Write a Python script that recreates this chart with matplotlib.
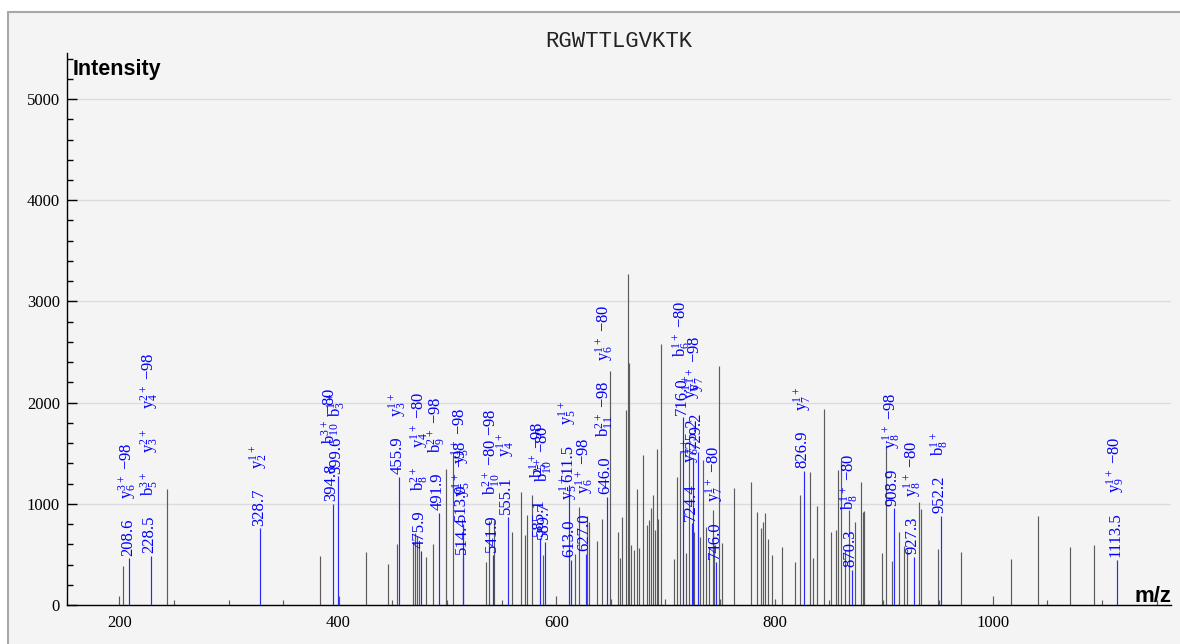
import matplotlib
matplotlib.use('Agg')
import matplotlib.pyplot as plt
from matplotlib.patches import Rectangle
from matplotlib.ticker import MultipleLocator

# ---------------- data ----------------
title = "RGWTTLGVKTK"

gray_mz = [199.4, 202.4, 243.0, 249.8, 300.0, 349.0, 383.2, 400.5, 425.4, 445.3,
           449.5, 453.5, 468.1, 470.0, 471.8, 473.6, 480.3, 486.4, 498.4, 499.8,
           505.4, 535.3, 537.7, 543.0, 549.7, 559.4, 567.4, 570.7, 572.6, 577.7,
           587.5, 599.3, 616.9, 620.9, 627.6, 629.7, 636.8, 642.0, 648.5, 649.5,
           656.6, 658.4, 660.0, 663.8, 665.4, 666.6, 668.5, 671.2, 673.9, 675.5,
           679.5, 683.2, 685.0, 686.2, 688.6, 690.4, 691.7, 693.2, 695.4, 699.6,
           707.8, 710.6, 713.0, 718.5, 721.0, 725.9, 731.4, 733.8, 736.9, 739.9,
           743.0, 744.5, 748.5, 749.5, 751.8, 762.8, 777.8, 783.9, 787.5, 789.1,
           790.6, 793.9, 797.6, 799.7, 806.8, 818.7, 822.7, 831.9, 835.2, 838.8,
           845.0, 849.9, 851.1, 856.0, 857.8, 860.8, 863.9, 868.2, 873.1, 878.9,
           881.0, 881.9, 897.8, 899.3, 901.8, 907.0, 914.0, 918.3, 920.8, 932.3,
           933.5, 949.4, 950.0, 970.2, 999.5, 1016.3, 1041.1, 1049.6, 1070.1, 1092.1,
           1100.0, 1149.8]
gray_int = [90, 385, 1146, 50, 50, 50, 484, 90, 524, 405,
            50, 600, 626, 711, 680, 612, 477, 600, 1341, 50,
            1472, 422, 830, 840, 50, 718, 1120, 690, 889, 1087,
            494, 90, 500, 972, 880, 825, 635, 847, 2315, 60,
            725, 462, 873, 1927, 3271, 2388, 593, 543, 1143, 560,
            1482, 790, 840, 955, 1087, 741, 1538, 847, 2579, 60,
            451, 1268, 1515, 513, 1499, 725, 675, 1433, 774, 576,
            939, 593, 2362, 60, 610, 1153, 1218, 922, 757, 823,
            906, 649, 494, 60, 570, 428, 1087, 1318, 465, 975,
            1934, 45, 725, 745, 1334, 1426, 540, 940, 823, 1218,
            922, 930, 510, 49, 1558, 438, 718, 583, 550, 1021,
            945, 553, 49, 524, 89, 451, 879, 49, 576, 593,
            49, 49]

ann_mz = [208.6, 228.5, 328.7, 394.8, 399.6, 455.9, 475.9, 491.9, 513.9, 514.4,
          541.9, 555.1, 585.1, 589.7, 611.5, 613.0, 627.0, 646.0, 716.0, 724.4,
          725.2, 729.2, 746.0, 826.9, 870.3, 908.9, 927.3, 952.2, 1113.5]
ann_int = [461, 484, 758, 998, 1270, 1268, 534, 912, 800, 477,
           494, 873, 659, 626, 1190, 445, 505, 1070, 1855, 807,
           1450, 1515, 428, 1327, 346, 955, 477, 879, 445]
ann_ions = [
    [r"$y_6^{3+}$ −98"],
    [r"$b_5^{3+}$", r"$y_3^{2+}$", r"$y_4^{2+}$ −98"],
    [r"$y_2^{1+}$"],
    [r"$b_{10}^{3+}$ −80"],
    [r"$b_3^{1+}$"],
    [r"$y_3^{1+}$"],
    [r"$b_8^{2+}$", r"$y_4^{1+}$ −80"],
    [r"$b_9^{2+}$ −98"],
    [r"$y_5^{1+}$ −98"],
    [r"$y_5^{1+}$ −98"],
    [r"$b_{10}^{2+}$ −80 −98"],
    [r"$y_4^{1+}$"],
    [r"$b_5^{1+}$ −98"],
    [r"$b_{10}^{2+}$ −80"],
    [r"$y_5^{1+}$"],
    [r"$y_5^{1+}$"],
    [r"$y_6^{1+}$ −98"],
    [r"$b_{11}^{2+}$ −98", r"$y_6^{1+}$ −80"],
    [r"$b_6^{1+}$ −80"],
    [r"$y_6^{1+}$"],
    [r"$y_6^{1+}$"],
    [r"$y_7^{1+}$ −98"],
    [r"$y_7^{1+}$ −80"],
    [r"$y_7^{1+}$"],
    [r"$b_8^{1+}$ −80"],
    [r"$y_8^{1+}$ −98"],
    [r"$y_8^{1+}$ −80"],
    [r"$b_8^{1+}$"],
    [r"$y_9^{1+}$ −80"],
]

x_ticks = [200, 400, 600, 800, 1000]
y_ticks = [0, 1000, 2000, 3000, 4000, 5000]

# ---------------- style ----------------
plt.rcParams['mathtext.fontset'] = 'custom'
plt.rcParams['mathtext.rm'] = 'Liberation Serif'
plt.rcParams['mathtext.it'] = 'Liberation Serif'
plt.rcParams['mathtext.default'] = 'rm'

W, H, DPI = 1180, 644, 100
fig = plt.figure(figsize=(W / DPI, H / DPI), dpi=DPI)
fig.patch.set_facecolor('white')
fig.patches.append(Rectangle((8 / W, -0.1), 1.2, (H - 12) / H + 0.1,
                             transform=fig.transFigure, facecolor='#f4f4f4',
                             edgecolor='#a8a8a8', linewidth=1.5, zorder=-10))

ax_l, ax_r, ax_b, ax_t = 67, 1171, 605, 53
ax = fig.add_axes([ax_l / W, 1 - ax_b / H, (ax_r - ax_l) / W, (ax_b - ax_t) / H])
ax.set_facecolor('none')
px_per_unit = 218.3 / 200.0
xmin = 200 - (120 - ax_l) / px_per_unit
ax.set_xlim(xmin, xmin + (ax_r - ax_l) / px_per_unit)
ax.set_ylim(0, 5455)

for s in ['top', 'right']:
    ax.spines[s].set_visible(False)
for s in ['left', 'bottom']:
    ax.spines[s].set_color('black')
    ax.spines[s].set_linewidth(1.0)

ax.set_xticks(x_ticks)
ax.set_yticks(y_ticks)
ax.yaxis.set_minor_locator(MultipleLocator(200))
ax.tick_params(axis='x', length=0, pad=7, labelsize=12)
ax.tick_params(axis='y', which='major', direction='in', length=7, width=1, pad=5, labelsize=12)
ax.tick_params(axis='y', which='minor', direction='in', length=4, width=1)
for lab in ax.get_xticklabels() + ax.get_yticklabels():
    lab.set_fontfamily('Liberation Serif')
ax.yaxis.grid(True, which='major', color='#dcdcdc', linewidth=1.0)
ax.set_axisbelow(True)

ax.vlines(gray_mz, 0, gray_int, colors='#5c5c5c', linewidth=0.85, zorder=2)
ax.vlines(ann_mz, 0, ann_int, colors='#2828ff', linewidth=0.85, zorder=3)

fig.text(0.5 * (ax_l + ax_r) / W, 1 - 47 / H, title, ha='center', va='baseline',
         fontsize=16, family='Liberation Mono', color='#222222')
fig.text(73 / W, 1 - 75 / H, 'Intensity', ha='left', va='baseline',
         fontsize=15.5, fontweight='bold', family='Liberation Sans')
ax.text(1.0, 0.005, 'm/z', transform=ax.transAxes, ha='right', va='baseline',
        fontsize=16, fontweight='bold', family='Liberation Sans')

fig.canvas.draw()
rend = fig.canvas.get_renderer()
gap_pt = 14.0
for mz, h, ions in zip(ann_mz, ann_int, ann_ions):
    off = 2.0
    for s in [f"{mz:.1f}"] + ions:
        t = ax.annotate(s, (mz, h), xytext=(-1, off), textcoords='offset points',
                        rotation=90, ha='center', va='bottom', color='#0000ff',
                        fontsize=12, family='Liberation Serif',
                        annotation_clip=False, zorder=4)
        bb = t.get_window_extent(rend)
        off += bb.height * 72.0 / DPI + gap_pt

fig.savefig('out.png', dpi=DPI)
